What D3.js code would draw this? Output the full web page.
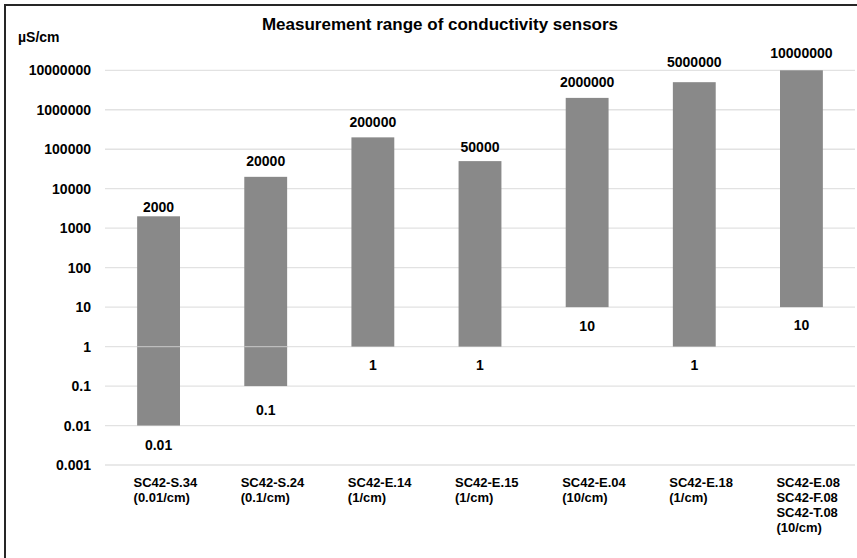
<!DOCTYPE html>
<html><head><meta charset="utf-8">
<script src="https://cdn.jsdelivr.net/npm/d3@7"></script>
<style>body{margin:0;background:#fff}svg{display:block;font-family:"Liberation Sans",Arial,sans-serif}</style>
</head><body>
<script>
const categories = [
  ["SC42-S.34","(0.01/cm)"],
  ["SC42-S.24","(0.1/cm)"],
  ["SC42-E.14","(1/cm)"],
  ["SC42-E.15","(1/cm)"],
  ["SC42-E.04","(10/cm)"],
  ["SC42-E.18","(1/cm)"],
  ["SC42-E.08","SC42-F.08","SC42-T.08","(10/cm)"]
];
const rangeMax = [2000, 20000, 200000, 50000, 2000000, 5000000, 10000000];
const rangeMin = [0.01, 0.1, 1, 1, 10, 1, 10];
const tickValues = [0.001, 0.01, 0.1, 1, 10, 100, 1000, 10000, 100000, 1000000, 10000000];
const tickLabels = ["0.001","0.01","0.1","1","10","100","1000","10000","100000","1000000","10000000"];
const title = "Measurement range of conductivity sensors";
const unit = "µS/cm";

// label styling offsets (px) as placed in the original
const topLabelGap = [4, 10.7, 10.7, 8.7, 10.7, 15.3, 12.7];
const bottomLabelGap = [24.7, 29.4, 23, 23, 24, 23, 22.5];

const W = 857, H = 558;
const svg = d3.select("body").append("svg").attr("width", W).attr("height", H);

svg.append("rect").attr("x", 5).attr("y", 5).attr("width", W + 20).attr("height", H + 20)
  .attr("fill", "#fff").attr("stroke", "#262626").attr("stroke-width", 2);

const x = d3.scaleBand().domain(d3.range(categories.length)).range([105, 855]).paddingInner(0.6).paddingOuter(0.3);
const y = d3.scaleLog().domain([0.001, 10000000]).range([465, 70.3]);

// gridlines
svg.append("g").selectAll("line").data(tickValues).join("line")
  .attr("x1", 105).attr("x2", 855)
  .attr("y1", d => y(d)).attr("y2", d => y(d))
  .attr("stroke", "#e2e2e2").attr("stroke-width", 1.3);

// bars
const data = categories.map((c, i) => ({i, c, lo: rangeMin[i], hi: rangeMax[i]}));
svg.append("g").selectAll("rect").data(data).join("rect")
  .attr("x", d => x(d.i)).attr("width", x.bandwidth())
  .attr("y", d => y(d.hi)).attr("height", d => y(d.lo) - y(d.hi))
  .attr("fill", "#898989");

// baseline at 1 over bars crossing it
svg.append("g").selectAll("line").data(data.filter(d => d.lo < 1 && d.hi > 1)).join("line")
  .attr("x1", d => x(d.i)).attr("x2", d => x(d.i) + x.bandwidth())
  .attr("y1", y(1)).attr("y2", y(1))
  .attr("stroke", "#bdbdbd").attr("stroke-width", 1.3);

// y axis labels
const yAxis = d3.axisLeft(y).tickValues(tickValues).tickFormat((d, i) => tickLabels[i]).tickSize(0).tickPadding(0);
const gy = svg.append("g").attr("transform", "translate(91,0)").call(yAxis);
gy.select(".domain").remove();
gy.selectAll("text").attr("font-size", 14).attr("font-weight", "bold").attr("fill", "#000")
  .attr("font-family", '"Liberation Sans",Arial,sans-serif');

// value labels
const fmt = v => String(v);
svg.append("g").selectAll("text").data(data).join("text")
  .attr("x", d => x(d.i) + x.bandwidth() / 2).attr("y", d => y(d.hi) - topLabelGap[d.i])
  .attr("text-anchor", "middle").attr("font-size", 14).attr("font-weight", "bold")
  .text(d => fmt(d.hi));
svg.append("g").selectAll("text").data(data).join("text")
  .attr("x", d => x(d.i) + x.bandwidth() / 2).attr("y", d => y(d.lo) + bottomLabelGap[d.i])
  .attr("text-anchor", "middle").attr("font-size", 14).attr("font-weight", "bold")
  .text(d => fmt(d.lo));

// category labels
const cg = svg.append("g").selectAll("text").data(data).join("text")
  .attr("y", 486.5).attr("font-size", 13).attr("font-weight", "bold");
cg.selectAll("tspan").data(d => d.c.map(s => ({s, x: x(d.i) + x.bandwidth() / 2 - 25}))).join("tspan")
  .attr("x", t => t.x).attr("dy", (t, j) => j === 0 ? 0 : 15).text(t => t.s);

// title and unit
svg.append("text").attr("x", 440).attr("y", 30).attr("text-anchor", "middle")
  .attr("font-size", 17).attr("font-weight", "bold").text(title);
svg.append("text").attr("x", 18).attr("y", 42).attr("font-size", 14).attr("font-weight", "bold").text(unit);
</script>
</body></html>
